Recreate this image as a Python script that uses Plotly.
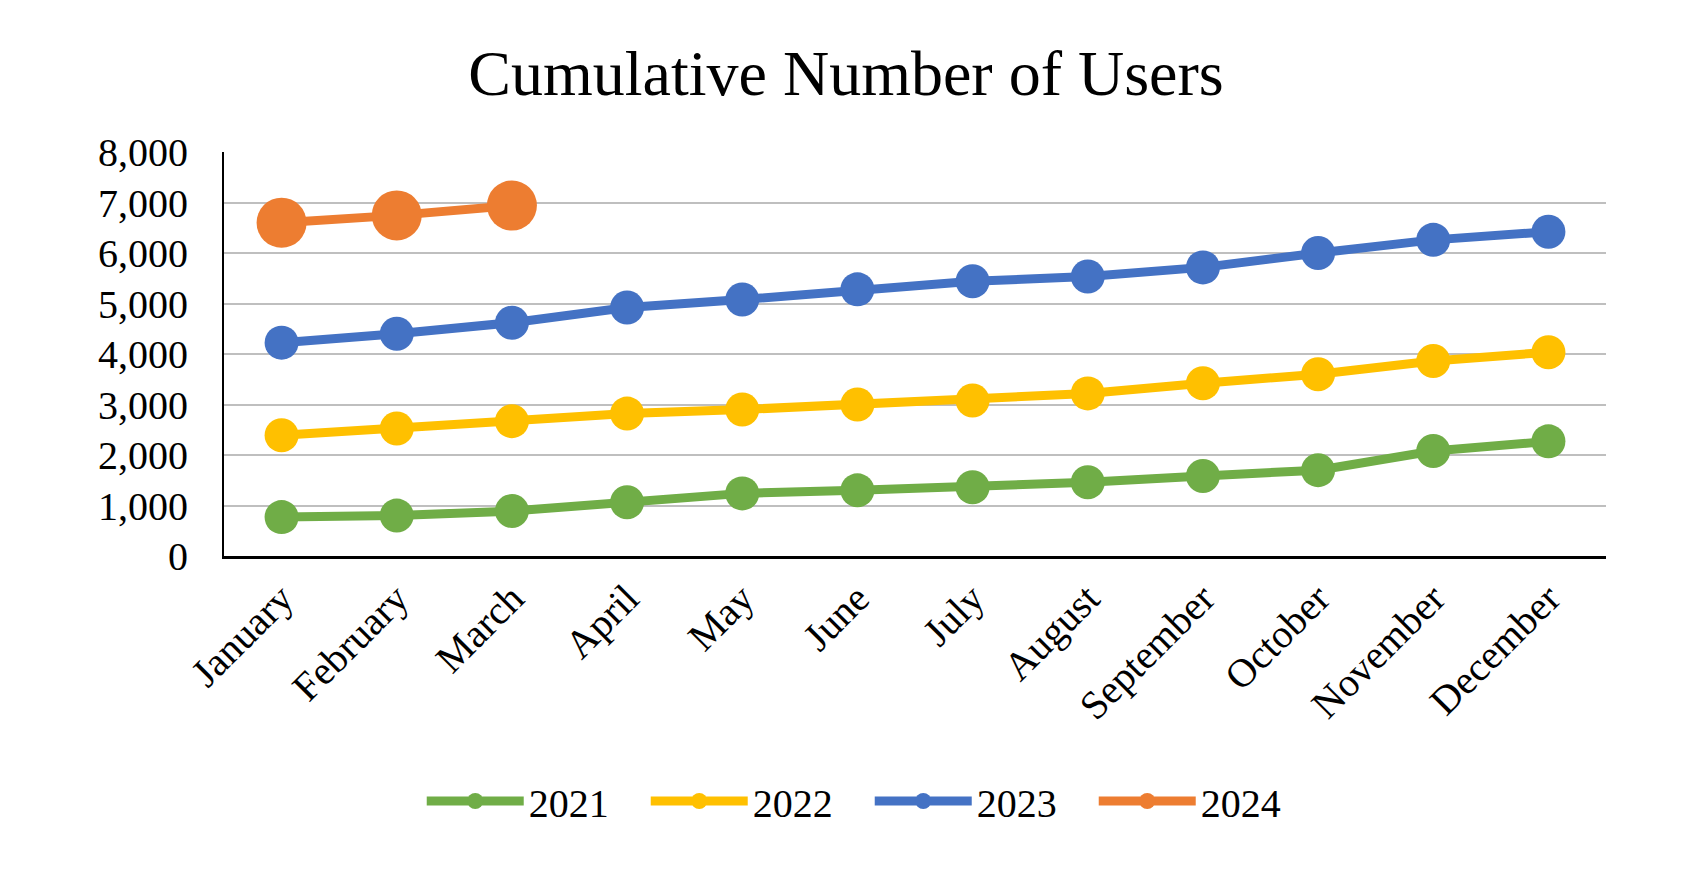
import plotly.graph_objects as go

months = ["January", "February", "March", "April", "May", "June", "July",
          "August", "September", "October", "November", "December"]
users_2021 = [770, 800, 890, 1065, 1240, 1300, 1360, 1460, 1585, 1700, 2080, 2270]
users_2022 = [2390, 2525, 2670, 2820, 2900, 3000, 3080, 3220, 3420, 3600, 3860, 4035]
users_2023 = [4225, 4400, 4620, 4920, 5080, 5280, 5440, 5535, 5715, 6000, 6260, 6420]
users_2024 = [6600, 6745, 6940]
series_names = ["2021", "2022", "2023", "2024"]
series_colors = ["#70AD47", "#FFC000", "#4472C4", "#ED7D31"]
y_ticks = [0, 1000, 2000, 3000, 4000, 5000, 6000, 7000, 8000]

FONT = "Liberation Serif, Times New Roman, serif"

fig = go.Figure()
data = [users_2021, users_2022, users_2023, users_2024]
sizes = [34, 34, 34, 50]
for name, vals, col, sz in zip(series_names, data, series_colors, sizes):
    fig.add_trace(go.Scatter(
        x=months[:len(vals)], y=vals, name=name, mode="lines+markers",
        line=dict(color=col, width=9),
        marker=dict(color=col, size=sz),
    ))

fig.update_layout(
    width=1693, height=890,
    paper_bgcolor="white", plot_bgcolor="white",
    margin=dict(l=216, r=95, t=144, b=342),
    font=dict(family=FONT, size=40, color="black"),
    title=dict(text="Cumulative Number of Users", x=0.495, xanchor="center",
               y=1 - 65 / 890, yanchor="middle", yref="container",
               font=dict(family=FONT, size=64, color="black")),
    showlegend=True,
    legend=dict(orientation="h", xref="container", yref="container",
                x=0.509, xanchor="center", y=1 - 793 / 890, yanchor="middle",
                font=dict(family=FONT, size=40, color="black"),
                itemwidth=97, entrywidth=112, entrywidthmode="pixels",
                bgcolor="rgba(0,0,0,0)"),
    xaxis=dict(type="category", categoryorder="array", categoryarray=months,
               range=[-0.5, 11.5], tickangle=-45, showgrid=False,
               showline=True, linecolor="black", linewidth=3, ticks="",
               tickfont=dict(family=FONT, size=40, color="black")),
    yaxis=dict(range=[0, 8000], tickvals=y_ticks, tickformat=",d",
               showgrid=True, gridcolor="#BFBFBF", gridwidth=2,
               showline=True, linecolor="black", linewidth=2, ticks="",
               zeroline=False, ticklabelstandoff=26,
               tickfont=dict(family=FONT, size=40, color="black")),
)

fig.write_html("out.html")
